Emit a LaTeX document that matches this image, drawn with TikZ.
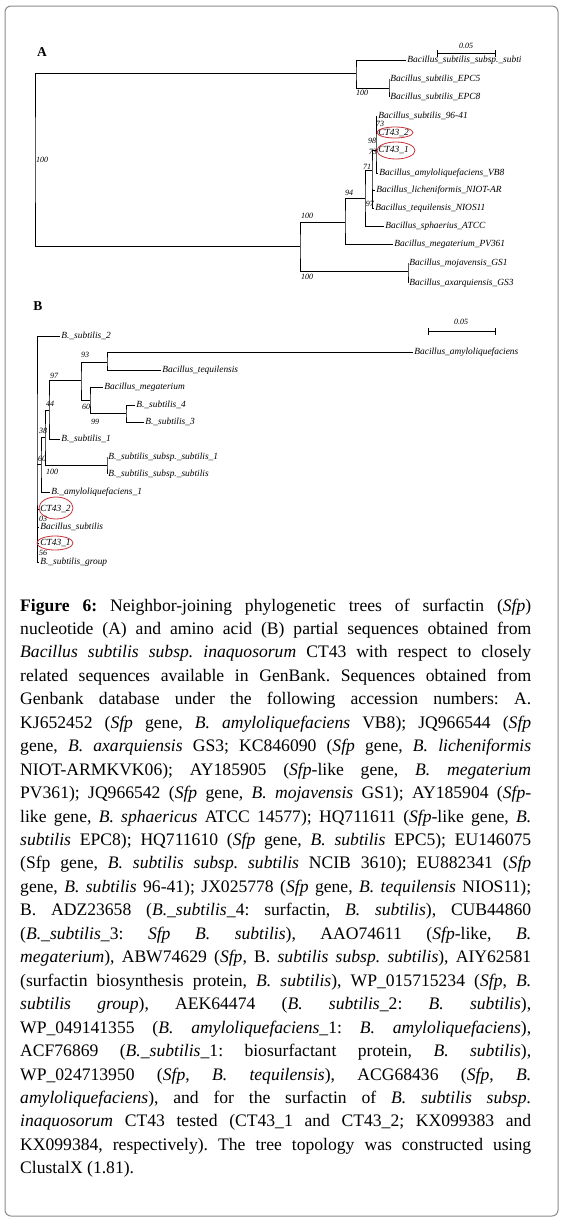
\documentclass[tikz,border=0pt]{standalone}
\usepackage{fontspec}
\setmainfont{Liberation Serif}
\definecolor{ringred}{HTML}{C8323A}
\definecolor{framegray}{HTML}{8A8A8A}
\begin{document}
\begin{tikzpicture}[x=1pt,y=-1pt,
  leaf/.style={anchor=west, inner sep=1.2pt, font=\fontsize{9.4}{10}\selectfont\itshape},
  boot/.style={inner sep=0pt, font=\fontsize{8}{9}\selectfont\itshape},
  br/.style={line width=0.8pt},
  ring/.style={draw=ringred, line width=0.8pt},
  panel/.style={inner sep=0pt, font=\fontsize{13.5}{14}\selectfont\bfseries},
  scalebar/.style={line width=0.8pt}
]
\useasboundingbox (0,0) rectangle (563,1226);
\draw[framegray, line width=1pt, rounded corners=6pt] (5,6) rectangle (558,1216);

% ---------------- Tree A ----------------
\node[panel] (pA) at (42,52) {A};
\coordinate (sA1) at (437,53);
\coordinate (sA2) at (495,53);
\draw[scalebar] (sA1) -- (sA2);
\draw[scalebar] ([yshift=-3.5pt]sA1) -- ([yshift=3.5pt]sA1);
\draw[scalebar] ([yshift=-3.5pt]sA2) -- ([yshift=3.5pt]sA2);
\node[boot] (sAl) at (466,46) {0.05};

\node[leaf] (a1) at (406,60) {Bacillus\_subtilis\_subsp.\_subti};
\node[leaf] (a2) at (389,79) {Bacillus\_subtilis\_EPC5};
\node[leaf] (a3) at (389,97) {Bacillus\_subtilis\_EPC8};
\node[leaf] (a4) at (377,116) {Bacillus\_subtilis\_96-41};
\node[leaf] (a5) at (377,133) {CT43\_2};
\node[leaf] (a6) at (377,150) {CT43\_1};
\node[leaf] (a7) at (378,173) {Bacillus\_amyloliquefaciens\_VB8};
\node[leaf] (a8) at (375,190) {Bacillus\_licheniformis\_NIOT-AR};
\node[leaf] (a9) at (374,208) {Bacillus\_tequilensis\_NIOS11};
\node[leaf] (a10) at (384,226) {Bacillus\_sphaerius\_ATCC};
\node[leaf] (a11) at (393,244) {Bacillus\_megaterium\_PV361};
\node[leaf] (a12) at (408,263) {Bacillus\_mojavensis\_GS1};
\node[leaf] (a13) at (408,283) {Bacillus\_axarquiensis\_GS3};

\coordinate (rA) at (35,160);
\coordinate (nA1) at (356,73);
\coordinate (nA2) at (389,88);
\coordinate (nA3) at (300,246);
\coordinate (nA5) at (408,271);
\coordinate (nA4) at (345,222);
\coordinate (nA6) at (365,198);
\coordinate (nA7) at (372,170);
\coordinate (nA8) at (376,150);

\draw[br] (nA1) -| (rA) |- (nA3);
\draw[br] (a1.west) -| (nA1) |- (nA2);
\draw[br] (a2.west) -| (nA2) |- (a3.west);
\draw[br] (nA4) -| (nA3) |- (nA5);
\draw[br] (a12.west) -| (nA5) |- (a13.west);
\draw[br] (nA6) -| (nA4) |- (a11.west);
\draw[br] (nA7) -| (nA6) |- (a10.west);
\draw[br] (nA8) -| (nA7) |- (a9.west);
\draw[br] (nA7 |- a8.west) -- (a8.west);
\draw[br] (a4.west) -| (nA8) |- (a7.west);
\draw[br] (nA8 |- a5.west) -- (a5.west);
\draw[br] (nA8 |- a6.west) -- (a6.west);

\node[boot, anchor=west] (bA1) at (36,160) {100};
\node[boot] (bA2) at (362,93) {100};
\node[boot] (bA3) at (380,124) {73};
\node[boot] (bA4) at (372,141) {98};
\node[boot, anchor=east] (bA5) at (377,152) {73};
\node[boot] (bA6) at (367,167) {71};
\node[boot, anchor=east] (bA7) at (374,204) {97};
\node[boot] (bA8) at (349,193) {94};
\node[boot] (bA9) at (307,216) {100};
\node[boot] (bA10) at (307,277) {100};

\draw[ring] (395,132.5) ellipse [x radius=18pt, y radius=5.5pt];
\draw[ring] (396,150.5) ellipse [x radius=19pt, y radius=8.5pt];

% ---------------- Tree B ----------------
\node[panel] (pB) at (38,306) {B};
\coordinate (sB1) at (428,331);
\coordinate (sB2) at (495,331);
\draw[scalebar] (sB1) -- (sB2);
\draw[scalebar] ([yshift=-3.5pt]sB1) -- ([yshift=3.5pt]sB1);
\draw[scalebar] ([yshift=-3.5pt]sB2) -- ([yshift=3.5pt]sB2);
\node[boot] (sBl) at (461,322) {0.05};

\node[leaf] (b1) at (60,336) {B.\_subtilis\_2};
\node[leaf] (b2) at (413,352) {Bacillus\_amyloliquefaciens};
\node[leaf] (b3) at (161,370) {Bacillus\_tequilensis};
\node[leaf] (b4) at (103,387) {Bacillus\_megaterium};
\node[leaf] (b5) at (135,405) {B.\_subtilis\_4};
\node[leaf] (b6) at (144,422) {B.\_subtilis\_3};
\node[leaf] (b7) at (60,439) {B.\_subtilis\_1};
\node[leaf] (b8) at (107,457) {B.\_subtilis\_subsp.\_subtilis\_1};
\node[leaf] (b9) at (107,474) {B.\_subtilis\_subsp.\_subtilis};
\node[leaf] (b10) at (50,492) {B.\_amyloliquefaciens\_1};
\node[leaf] (b11) at (39,509) {CT43\_2};
\node[leaf] (b12) at (39,527) {Bacillus\_subtilis};
\node[leaf] (b13) at (39,543) {CT43\_1};
\node[leaf] (b14) at (39,562) {B.\_subtilis\_group};

\coordinate (rB) at (37,450);
\coordinate (nB93) at (107,362);
\coordinate (nB99) at (126,413);
\coordinate (nB60) at (90,400);
\coordinate (nB97) at (81,380);
\coordinate (nB44) at (49,410);
\coordinate (nB38) at (45,437);
\coordinate (nBs) at (107,465);
\coordinate (nB60b) at (41,464);

\draw[br] (b1.west) -| (rB) |- (b14.west);
\draw[br] (rB |- nB60b) -- (nB60b);
\draw[br] (rB |- b11.west) -- (b11.west);
\draw[br] (rB |- b12.west) -- (b12.west);
\draw[br] (rB |- b13.west) -- (b13.west);
\draw[br] (nB38) -| (nB60b) |- (b10.west);
\draw[br] (nB44) -| (nB38) |- (nBs);
\draw[br] (b8.west) -| (nBs) |- (b9.west);
\draw[br] (nB97) -| (nB44) |- (b7.west);
\draw[br] (nB93) -| (nB97) |- (nB60);
\draw[br] (b2.west) -| (nB93) |- (b3.west);
\draw[br] (b4.west) -| (nB60) |- (nB99);
\draw[br] (b5.west) -| (nB99) |- (b6.west);

\node[boot] (bB1) at (85,355) {93};
\node[boot] (bB2) at (54,376) {97};
\node[boot] (bB3) at (86,407) {60};
\node[boot] (bB4) at (95,422) {99};
\node[boot] (bB5) at (50,404) {44};
\node[boot] (bB6) at (43,431) {38};
\node[boot] (bB7) at (42,459) {60};
\node[boot] (bB8) at (52,472) {100};
\node[boot] (bB9) at (43,518.5) {03};
\node[boot] (bB10) at (43,552.5) {56};

\draw[ring] (56,508) ellipse [x radius=17pt, y radius=11pt];
\draw[ring] (55,543) ellipse [x radius=18pt, y radius=7pt];

% ---------------- Caption ----------------
\node[anchor=base west, inner sep=0pt] (cap) at (20,611) {\parbox[t]{511pt}{\fontsize{17.6}{23.45}\selectfont\frenchspacing
\textbf{Figure 6:} Neighbor-joining phylogenetic trees of surfactin (\emph{Sfp})\linebreak
nucleotide (A) and amino acid (B) partial sequences obtained from\linebreak
\emph{Bacillus subtilis subsp. inaquosorum} CT43 with respect to closely\linebreak
related sequences available in GenBank. Sequences obtained from\linebreak
Genbank database under the following accession numbers: A.\linebreak
KJ652452 (\emph{Sfp} gene, \emph{B. amyloliquefaciens} VB8); JQ966544 (\emph{Sfp}\linebreak
gene, \emph{B. axarquiensis} GS3; KC846090 (\emph{Sfp} gene, \emph{B. licheniformis}\linebreak
NIOT-ARMKVK06); AY185905 (\emph{Sfp}-like gene, \emph{B. megaterium}\linebreak
PV361); JQ966542 (\emph{Sfp} gene, \emph{B. mojavensis} GS1); AY185904 (\emph{Sfp}-\linebreak
like gene, \emph{B. sphaericus} ATCC 14577); HQ711611 (\emph{Sfp}-like gene, \emph{B.}\linebreak
\emph{subtilis} EPC8); HQ711610 (\emph{Sfp} gene, \emph{B. subtilis} EPC5); EU146075\linebreak
(Sfp gene, \emph{B. subtilis subsp. subtilis} NCIB 3610); EU882341 (\emph{Sfp}\linebreak
gene, \emph{B. subtilis} 96-41); JX025778 (\emph{Sfp} gene, \emph{B. tequilensis} NIOS11);\linebreak
B. ADZ23658 (\emph{B.\_subtilis\_}4: surfactin, \emph{B. subtilis}), CUB44860\linebreak
(\emph{B.\_subtilis\_}3: \emph{Sfp B. subtilis}), AAO74611 (\emph{Sfp}-like, \emph{B.}\linebreak
\emph{megaterium}), ABW74629 (\emph{Sfp}, B. \emph{subtilis subsp. subtilis}), AIY62581\linebreak
(surfactin biosynthesis protein, \emph{B. subtilis}), WP\_015715234 (\emph{Sfp}, \emph{B.}\linebreak
\emph{subtilis group}), AEK64474 (\emph{B. subtilis\_}2: \emph{B. subtilis}),\linebreak
WP\_049141355 (\emph{B. amyloliquefaciens\_}1: \emph{B. amyloliquefaciens}),\linebreak
ACF76869 (\emph{B.\_subtilis\_}1: biosurfactant protein, \emph{B. subtilis}),\linebreak
WP\_024713950 (\emph{Sfp}, \emph{B. tequilensis}), ACG68436 (\emph{Sfp}, \emph{B.}\linebreak
\emph{amyloliquefaciens}), and for the surfactin of \emph{B. subtilis subsp.}\linebreak
\emph{inaquosorum} CT43 tested (CT43\_1 and CT43\_2; KX099383 and\linebreak
KX099384, respectively). The tree topology was constructed using\linebreak
ClustalX (1.81).}};
\end{tikzpicture}
\end{document}
